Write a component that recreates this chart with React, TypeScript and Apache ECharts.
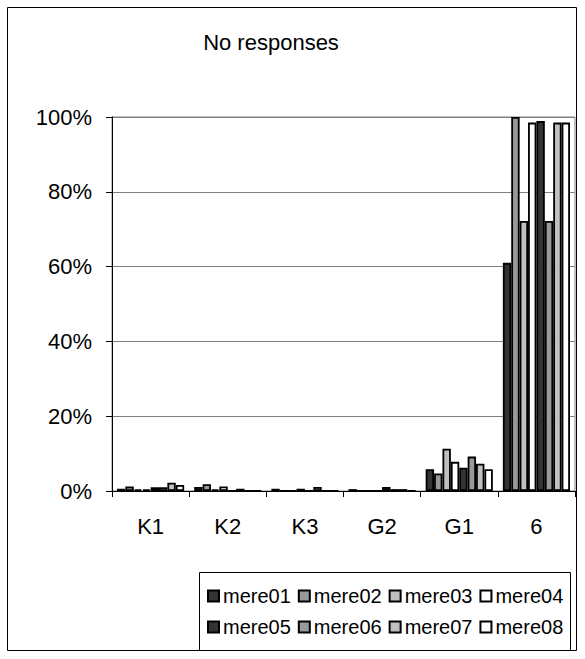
import React, { useEffect, useRef } from "react";
import * as echarts from "echarts";

// Category labels along the x axis
const categories = ["K1", "K2", "K3", "G2", "G1", "6"];

// Share of "no response" answers per category (percent)
const mere01 = [0.6, 1.1, 0.6, 0.5, 5.8, 61.0];
const mere02 = [1.2, 1.8, 0, 0, 4.7, 100];
const mere03 = [0.4, 0.4, 0, 0, 11.3, 72.2];
const mere04 = [0.4, 1.2, 0.6, 0, 7.8, 98.5];
const mere05 = [1.0, 0, 0, 1.1, 6.2, 98.9];
const mere06 = [1.0, 0.6, 1.1, 0.5, 9.2, 72.2];
const mere07 = [2.2, 0, 0, 0.5, 7.3, 98.5];
const mere08 = [1.6, 0, 0, 0, 5.8, 98.5];

const seriesNames = ["mere01", "mere02", "mere03", "mere04", "mere05", "mere06", "mere07", "mere08"];
const seriesValues = [mere01, mere02, mere03, mere04, mere05, mere06, mere07, mere08];
const seriesColors = ["#333333", "#999999", "#c0c0c0", "#ffffff", "#333333", "#999999", "#c0c0c0", "#ffffff"];

const FONT = "'Liberation Sans', Arial, sans-serif";

export default function App() {
  const ref = useRef<HTMLDivElement>(null);

  useEffect(() => {
    if (!ref.current) return;
    const chart = echarts.init(ref.current, null, { renderer: "svg" });

    const legendCommon = {
      orient: "horizontal" as const,
      icon: "rect",
      itemWidth: 11,
      itemHeight: 11,
      itemGap: 7,
      width: 380,
      textStyle: { fontFamily: FONT, fontSize: 20, color: "#000", padding: [0, 0, 0, -1] },
      selectedMode: false,
      padding: 0,
    };

    chart.setOption({
      animation: false,
      backgroundColor: "#ffffff",
      title: {
        text: "No responses",
        left: 266,
        top: 26,
        textAlign: "center",
        textStyle: { fontFamily: FONT, fontSize: 22, fontWeight: "normal", color: "#000" },
      },
      grid: {
        left: 112,
        right: 10,
        top: 117,
        bottom: 168,
        show: true,
        borderColor: "#808080",
        borderWidth: 1,
        backgroundColor: "transparent",
      },
      legend: [
        { ...legendCommon, data: seriesNames.slice(0, 4), left: 207, top: 586 },
        { ...legendCommon, data: seriesNames.slice(4), left: 207, top: 617 },
      ],
      xAxis: {
        type: "category",
        data: categories,
        axisLine: { lineStyle: { color: "#000", width: 1 } },
        axisTick: { show: true, length: 6, lineStyle: { color: "#000" } },
        axisLabel: { fontFamily: FONT, fontSize: 22, color: "#000", margin: 24 },
      },
      yAxis: {
        type: "value",
        min: 0,
        max: 100,
        interval: 20,
        axisLine: { show: true, lineStyle: { color: "#000", width: 1 } },
        axisTick: { show: true, length: 6, lineStyle: { color: "#000" } },
        axisLabel: { fontFamily: FONT, fontSize: 22, color: "#000", margin: 20, formatter: "{value}%" },
        splitLine: { show: true, lineStyle: { color: "#808080", width: 1 } },
      },
      series: seriesNames.map((name, i) => ({
        name,
        type: "bar",
        data: seriesValues[i],
        barGap: "0%",
        barCategoryGap: "13%",
        itemStyle: { color: seriesColors[i], borderColor: "#000", borderWidth: 1.8 },
      })),
      graphic: [
        {
          type: "rect",
          shape: { x: 7.5, y: 7.5, width: 569, height: 643 },
          style: { fill: "none", stroke: "#000", lineWidth: 1 },
          silent: true,
        },
        {
          type: "rect",
          shape: { x: 199.5, y: 572.5, width: 371, height: 78 },
          style: { fill: "none", stroke: "#000", lineWidth: 1 },
          silent: true,
        },
      ],
    });

    return () => chart.dispose();
  }, []);

  return (
    <div
      ref={ref}
      style={{ position: "absolute", left: 0, top: 0, width: 585, height: 659, background: "#fff" }}
    />
  );
}
